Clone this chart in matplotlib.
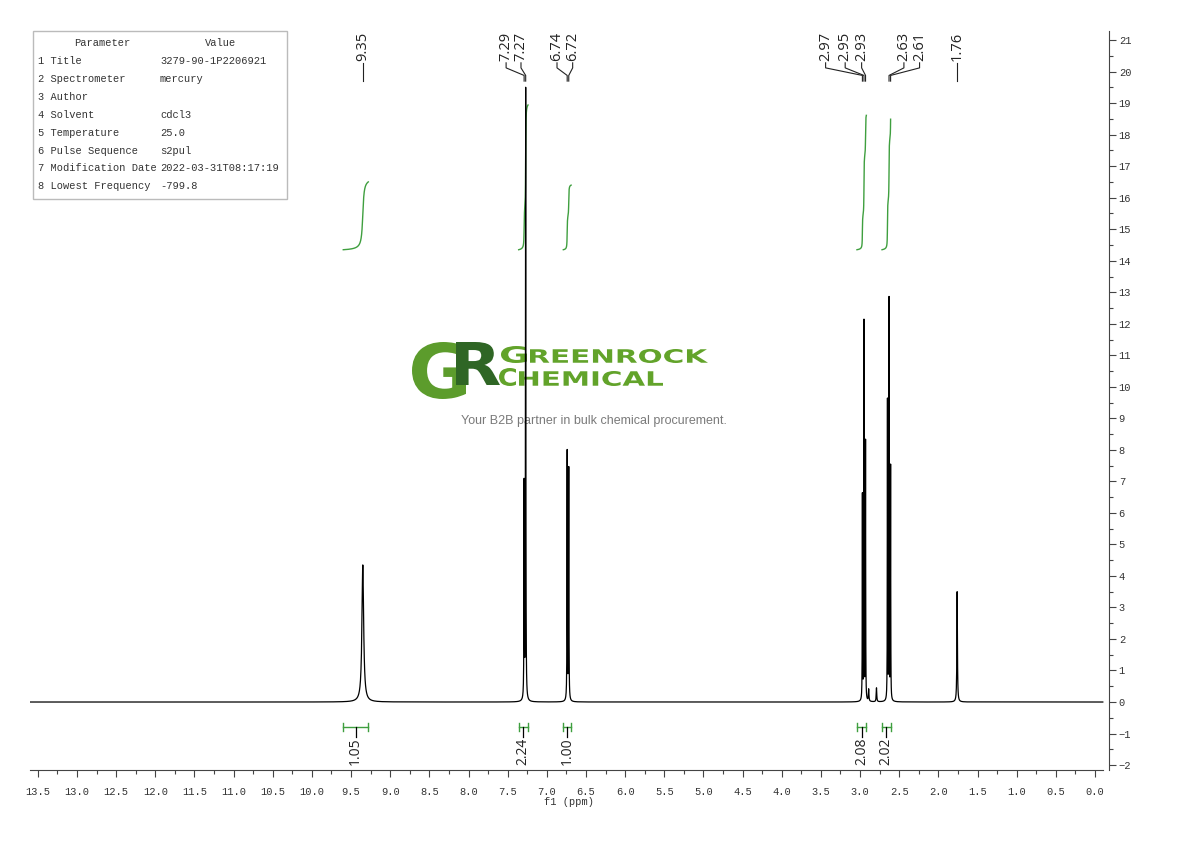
import numpy as np
import matplotlib
matplotlib.use('Agg')
import matplotlib.pyplot as plt
from matplotlib.textpath import TextPath
from matplotlib.patches import PathPatch, Rectangle
from matplotlib.font_manager import FontProperties
from matplotlib.transforms import Affine2D

# peak list (ppm, height, half width)
peak_ppm = [9.35, 7.29, 7.27, 6.74, 6.72, 2.97, 2.95, 2.93, 2.89, 2.79, 2.65, 2.63, 2.61, 1.76]
peak_height = [4.35, 6.8, 19.4, 7.9, 7.35, 6.5, 12.0, 8.2, 0.38, 0.44, 9.5, 12.7, 7.4, 3.5]
peak_hwhm = [0.013, 0.0025, 0.0025, 0.0025, 0.0025, 0.002, 0.002, 0.002, 0.004, 0.004, 0.002, 0.002, 0.002, 0.004]

label_text = ['9.35', '7.29', '7.27', '6.74', '6.72', '2.97', '2.95', '2.93', '2.63', '2.61', '1.76']

int_left = [9.60, 7.36, 6.79, 3.04, 2.72]
int_right = [9.28, 7.24, 6.69, 2.92, 2.61]
int_value = [1.05, 2.24, 1.00, 2.08, 2.02]

params = ['Title', 'Spectrometer', 'Author', 'Solvent', 'Temperature',
          'Pulse Sequence', 'Modification Date', 'Lowest Frequency']
values = ['3279-90-1P2206921', 'mercury', '', 'cdcl3', '25.0', 's2pul',
          '2022-03-31T08:17:19', '-799.8']

W, H = 1190, 841
mono = 'Liberation Mono'
green = '#3f9f3f'

fig = plt.figure(figsize=(W / 100, H / 100), dpi=100)
ax = fig.add_axes([30 / W, 1 - 770 / H, (1109 - 30) / W, (770 - 31) / H])
ax.set_facecolor('none')

x = np.arange(-0.10, 13.60, 0.0005)
y = np.zeros_like(x)
for p, h, w in zip(peak_ppm, peak_height, peak_hwhm):
    y += h * w ** 2 / ((x - p) ** 2 + w ** 2)
ax.plot(x, y, color='black', lw=0.9, zorder=3)

# integrals
for lo, hi, v in zip(int_left, int_right, int_value):
    m = (x <= lo) & (x >= hi)
    xs = x[m][::-1]
    cum = np.cumsum(y[m][::-1])
    cum = cum / cum[-1]
    ax.plot(xs, 14.35 + 2.05 * v * cum, color=green, lw=1.0, zorder=2)
    yb = -0.79
    ax.plot([lo, hi], [yb, yb], color=green, lw=1.0)
    ax.plot([lo, lo], [yb - 0.12, yb + 0.12], color=green, lw=1.0)
    ax.plot([hi, hi], [yb - 0.12, yb + 0.12], color=green, lw=1.0)
    c = (lo + hi) / 2
    ax.plot([c, c], [yb, -1.1], color='black', lw=0.9)
    ax.text(c, -1.12, f'{v:.2f}', rotation=90, ha='center', va='top',
            fontsize=10, family='Open Sans', color='#222222')

# peak labels with leader lines
label_pos = [9.35, 7.52, 7.33, 6.87, 6.67, 3.44, 3.19, 2.98, 2.44, 2.24, 1.76]
ya, yb_, yc, yd = 20.28, 20.12, 19.88, 19.70
for t, lx in zip(label_text, label_pos):
    p = float(t)
    ax.plot([lx, lx, p, p], [ya, yb_, yc, yd], color='#222222', lw=0.8)
    ax.text(lx, ya + 0.05, t, rotation=90, ha='center', va='bottom',
            fontsize=10.5, family='Open Sans', color='#222222')

ax.set_xlim(13.60, -0.179)
ax.set_ylim(-2.157, 21.29)
for s in ['left', 'top']:
    ax.spines[s].set_visible(False)
ax.spines['bottom'].set_bounds(13.60, -0.10)
ax.spines['bottom'].set_color('#444444')
ax.spines['right'].set_color('#444444')
ax.yaxis.tick_right()
ax.set_xticks(np.arange(0, 13.51, 0.5))
ax.set_xticks(np.arange(0, 13.6, 0.25), minor=True)
ax.set_xticklabels([f'{v:.1f}' for v in np.arange(0, 13.51, 0.5)])
ax.set_yticks(np.arange(-2, 22, 1))
ax.set_yticks(np.arange(-2, 21.3, 0.5), minor=True)
ax.set_yticklabels([str(v).replace('-', '\u2212') for v in range(-2, 22)])
ax.tick_params(axis='both', which='major', length=5, width=0.8, color='#444444',
               labelsize=7.5, labelcolor='#333333', pad=2)
ax.tick_params(axis='x', which='major', pad=7)
ax.tick_params(axis='both', which='minor', length=3, width=0.8, color='#444444')
for lab in ax.get_xticklabels() + ax.get_yticklabels():
    lab.set_family(mono)
ax.set_xlabel('f1 (ppm)', family=mono, fontsize=7.5, color='#333333', labelpad=0)

# parameter table
fig.add_artist(Rectangle((33 / W, 1 - 199 / H), (287 - 33) / W, (199 - 31) / H,
                         transform=fig.transFigure, fill=False, ec='#bbbbbb', lw=1))
fig.text(102 / W, 1 - 43 / H, 'Parameter', ha='center', va='center', family=mono,
         fontsize=7.5, color='#333333')
fig.text(221 / W, 1 - 43 / H, 'Value', ha='center', va='center', family=mono,
         fontsize=7.5, color='#333333')
for i, (n, v) in enumerate(zip(params, values)):
    yy = 1 - (61 + 17.9 * i) / H
    fig.text(38 / W, yy, f'{i + 1} {n}', ha='left', va='center', family=mono,
             fontsize=7.5, color='#333333')
    fig.text(160 / W, yy, v, ha='left', va='center', family=mono,
             fontsize=7.5, color='#333333')


# watermark
def logo_text(s, x0, x1, ytop, ybot, color):
    tp = TextPath((0, 0), s, size=1, prop=FontProperties(family='DejaVu Sans', weight='bold'))
    bb = tp.get_extents()
    tr = (Affine2D().translate(-bb.x0, -bb.y0)
          .scale((x1 - x0) / bb.width / W, (ybot - ytop) / bb.height / H)
          .translate(x0 / W, 1 - ybot / H) + fig.transFigure)
    fig.add_artist(PathPatch(tp, transform=tr, fc=color, ec='none', zorder=-1))


logo_text('G', 412, 466, 342, 399, '#5c9c2c')
logo_text('R', 456, 500, 342, 385, '#2f6625')
logo_text('G', 501, 527, 346, 363, '#62a32a')
logo_text('REENROCK', 530, 708, 349, 363, '#62a32a')
logo_text('C', 499, 516, 368, 386, '#62a32a')
logo_text('HEMICAL', 519, 663, 371, 386, '#62a32a')
fig.text(594 / W, 1 - 421 / H, 'Your B2B partner in bulk chemical procurement.',
         ha='center', va='center', family='Liberation Sans', fontsize=9,
         color='#7a7a7a', zorder=-1)

fig.savefig('out.png', dpi=100)
